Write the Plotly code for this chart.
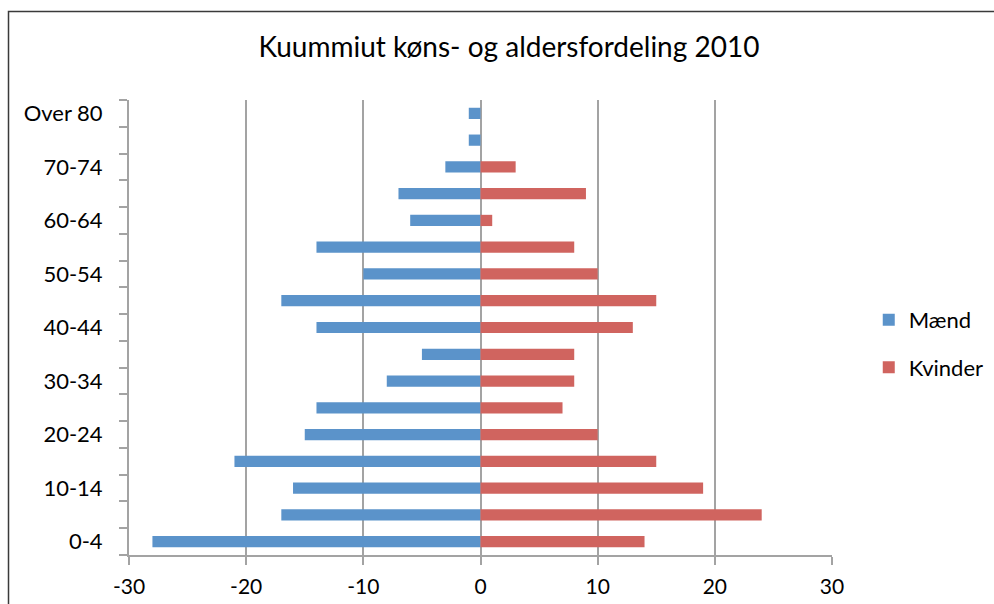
import plotly.graph_objects as go

# Age groups, youngest first (bottom of the pyramid)
age_groups = ["0-4", "5-9", "10-14", "15-19", "20-24", "25-29", "30-34", "35-39",
              "40-44", "45-49", "50-54", "55-59", "60-64", "65-69", "70-74",
              "75-79", "Over 80"]
# Men shown to the left (negative), women to the right
maend = [-28, -17, -16, -21, -15, -14, -8, -5, -14, -17, -10, -14, -6, -7, -3, -1, -1]
kvinder = [14, 24, 19, 15, 10, 7, 8, 8, 13, 15, 10, 8, 1, 9, 3, 0, 0]
# Only every other age group gets a label
tick_labels = [a if i % 2 == 0 else "" for i, a in enumerate(age_groups)]
x_ticks = [-30, -20, -10, 0, 10, 20, 30]
x_tick_labels = ["-30", "-20", "-10", "0", "10", "20", "30"]

FONT = "Lato, 'Open Sans', sans-serif"
BLUE = "#5B93CA"
RED = "#D0645F"
GRID = "#A3A3A3"

fig = go.Figure()
fig.add_trace(go.Bar(y=age_groups, x=maend, orientation="h", name="Mænd",
                     marker=dict(color=BLUE, line=dict(width=0)), width=0.42,
                     legendgroup="m"))
fig.add_trace(go.Bar(y=age_groups, x=kvinder, orientation="h", name="Kvinder",
                     marker=dict(color=RED, line=dict(width=0)), width=0.42,
                     legendgroup="k"))

fig.update_layout(
    width=994, height=604,
    margin=dict(l=129, r=162, t=100, b=49, autoexpand=False),
    paper_bgcolor="white", plot_bgcolor="white",
    barmode="overlay",
    font=dict(family=FONT, size=21, color="black"),
    title=dict(text="Kuummiut køns- og aldersfordeling 2010",
               x=0.512, xanchor="center", y=0.922, yanchor="middle",
               font=dict(family=FONT, size=28, color="black")),
    legend=dict(xref="container", x=0.874, xanchor="left",
                y=0.464, yanchor="middle",
                traceorder="grouped", tracegroupgap=16,
                font=dict(family=FONT, size=22, color="black"),
                bgcolor="rgba(0,0,0,0)"),
    xaxis=dict(range=[-30, 30], tickmode="array", tickvals=x_ticks,
               ticktext=x_tick_labels,
               showgrid=True, gridcolor=GRID, gridwidth=2,
               zeroline=True, zerolinecolor=GRID, zerolinewidth=2,
               showline=True, linecolor=GRID, linewidth=2,
               ticks="outside", ticklen=8, tickwidth=2, tickcolor=GRID,
               ticklabelstandoff=4,
               tickfont=dict(family=FONT, size=21, color="black")),
    yaxis=dict(type="category", categoryorder="array", categoryarray=age_groups,
               tickmode="array", tickvals=age_groups, ticktext=tick_labels,
               tickson="boundaries", showgrid=False,
               showline=True, linecolor=GRID, linewidth=2,
               ticks="outside", ticklen=8, tickwidth=2, tickcolor=GRID,
               ticklabelstandoff=20,
               tickfont=dict(family=FONT, size=22, color="black")),
    bargap=0.58,
)

# Outer chart frame
fig.add_shape(type="rect", xref="paper", yref="paper",
              x0=-0.1714, x1=1.3, y0=-0.2, y1=1.1945,
              line=dict(color="#3A3A3A", width=1.5), layer="below")

fig.write_html("out.html")
